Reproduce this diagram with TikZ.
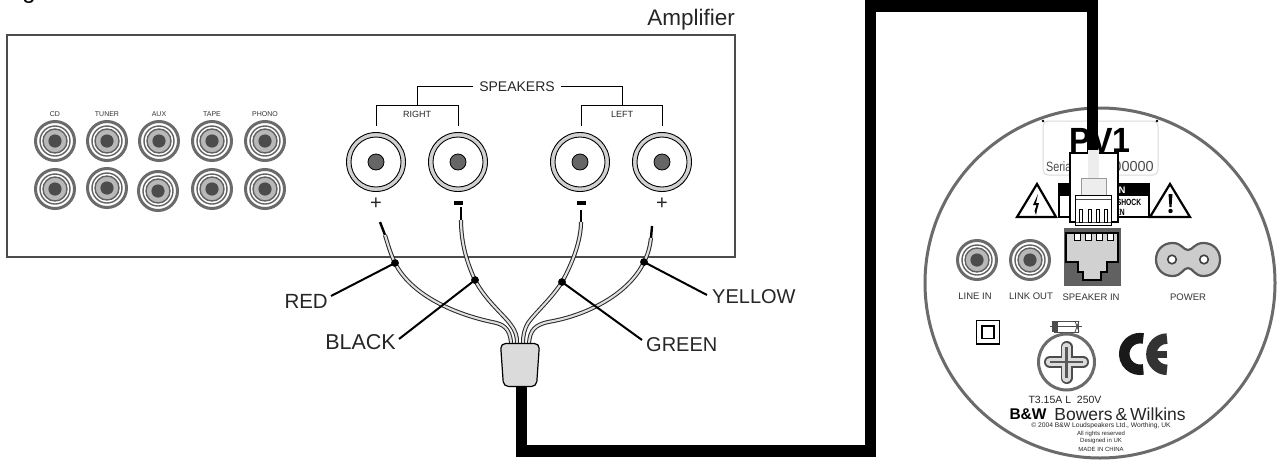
\documentclass[tikz,border=0pt]{standalone}
\usepackage{fontspec}
\setmainfont{Liberation Sans}
\newcommand{\fsz}[1]{\fontsize{#1}{#1}\selectfont}
\tikzset{
  lab/.style={inner sep=0pt,text=black!85},
  rail/.style={draw=black,line width=1pt},
  wire/.style={draw=black!85,double=black!12,double distance=2.1pt,line width=1pt},
  wiretip/.style={draw=black,line width=2.4pt},
  pointer/.style={draw=black,line width=2pt},
  dotmark/.style={circle,fill=black,inner sep=0pt,minimum size=7.5pt},
  cable/.style={draw=black,line width=11.5pt,miter limit=10},
  terminal/.style={circle,draw=black,line width=0.9pt,fill=black!18,minimum size=59pt,inner sep=0pt},
  terminner/.style={circle,draw=black,line width=0.9pt,fill=white,minimum size=50pt,inner sep=0pt},
  termdot/.style={circle,draw=black,line width=0.8pt,fill=black!60,minimum size=16pt,inner sep=0pt}
}
\newcommand{\rca}[2]{%
  \fill[white] (#1,#2) circle (21);
  \draw[black!58,line width=3pt] (#1,#2) circle (19.5);
  \draw[black!62,line width=1.4pt] (#1,#2) circle (15);
  \draw[black!62,line width=1.4pt,fill=black!28] (#1,#2) circle (12);
  \fill[black!70] (#1,#2) circle (6.6);
}
\begin{document}
\begin{tikzpicture}[x=1pt,y=-1pt]
\useasboundingbox (0,0) rectangle (1279,461);
\fill[white] (0,0) rectangle (1279,461);
\begin{scope}
\clip (0,0) rectangle (1279,461);
\node[lab,anchor=base,text=black] (gtail) at (29,-2) {\fsz{24}g};
\end{scope}

% amplifier
\node[draw=black!70,line width=1.2pt,minimum width=728pt,minimum height=222pt,inner sep=0pt] (amp) at (371,146) {};
\node[lab,anchor=base east] (amplabel) at (735,25) {\fsz{22.5}Amplifier};

\foreach \n/\x in {CD/55,TUNER/107,AUX/159,TAPE/212,PHONO/265}
  \node[lab,text=black!80] (in\n) at (\x,114.5) {\fsz{7}\n};
\rca{55}{141}\rca{107}{141}\rca{159}{141}\rca{212}{141}\rca{265}{141}
\rca{55}{189}\rca{107}{188}\rca{158}{191}\rca{212}{189}\rca{265}{189}

% speaker terminals
\foreach \n/\x in {ra/376,rb/458,la/580,lb/662}{
  \node[terminal] (\n) at (\x,162) {};
  \node[terminner] at (\x,162) {};
  \node[termdot] at (\x,162) {};
}
\node[lab] (spk) at (517,86.5) {\fsz{14}SPEAKERS};
\node[lab] (rgt) at (417,114) {\fsz{9}RIGHT};
\node[lab] (lft) at (622,114) {\fsz{9}LEFT};
\coordinate (rj) at (417,105);
\coordinate (lj) at (622,105);
\coordinate (ra1) at (376,126);
\coordinate (rb1) at (458,126);
\coordinate (la1) at (581,126);
\coordinate (lb1) at (662,126);
\draw[rail] (spk.west)++(-6,0) -- (417,86.5) -- (rj);
\draw[rail] (spk.east)++(6,0) -- (622,86.5) -- (lj);
\draw[rail] (ra1) |- (rb1 |- rj) -- (rb1);
\draw[rail] (la1) |- (lb1 |- lj) -- (lb1);
\node[lab] (p1) at (376,204) {\fsz{20}+};
\node[lab] (p2) at (662,204) {\fsz{20}+};
\node[fill=black,inner sep=0pt,minimum width=9pt,minimum height=3.2pt] (m1) at (458,203) {};
\node[fill=black,inner sep=0pt,minimum width=9pt,minimum height=3.2pt] (m2) at (581,203) {};

% wires
\coordinate (w1a) at (380,222); \coordinate (w1b) at (385,235);
\coordinate (w2a) at (461,207); \coordinate (w2b) at (461,220);
\coordinate (w3a) at (581,210); \coordinate (w3b) at (581,222);
\coordinate (w4a) at (652,226); \coordinate (w4b) at (651,238);
\node[dotmark] (d1) at (395,263) {};
\node[dotmark] (d2) at (475,280) {};
\node[dotmark] (d3) at (562,282) {};
\node[dotmark] (d4) at (644,262) {};
\coordinate (e1) at (511,343); \coordinate (e2) at (517,343);
\coordinate (e3) at (523,343); \coordinate (e4) at (529,343);
\draw[wiretip] (w1a) -- (w1b);
\draw[wiretip] (w2a) -- (w2b);
\draw[wiretip] (w3a) -- (w3b);
\draw[wiretip] (w4a) -- (w4b);
\draw[wire] (w1b) .. controls (388,245) and (391,255) .. (395,263) .. controls (410,293) and (450,313) .. (492,322) .. controls (503,324) and (510,328) .. (e1);
\draw[wire] (w2b) .. controls (461,245) and (468,265) .. (475,280) .. controls (485,300) and (505,316) .. (511,325) .. controls (516,332) and (517,336) .. (e2);
\draw[wire] (w3b) .. controls (581,240) and (573,262) .. (562,282) .. controls (552,298) and (535,313) .. (528,323) .. controls (524,330) and (523,336) .. (e3);
\draw[wire] (w4b) .. controls (650,245) and (649,252) .. (644,262) .. controls (630,292) and (590,315) .. (548,322) .. controls (535,325) and (530,330) .. (e4);
\node[dotmark] at (395,263) {};
\node[dotmark] at (475,280) {};
\node[dotmark] at (562,282) {};
\node[dotmark] at (644,262) {};

% colour labels
\node[lab,anchor=east] (red) at (328,301) {\fsz{20.5}RED};
\node[lab,anchor=east] (blk) at (396,342) {\fsz{21.5}BLACK};
\node[lab,anchor=west] (grn) at (646,345) {\fsz{20}GREEN};
\node[lab,anchor=west] (yel) at (712,297) {\fsz{20}YELLOW};
\coordinate (r0) at (331,296); \coordinate (b0) at (399,339);
\coordinate (g0) at (642,340); \coordinate (y0) at (707,295);
\draw[pointer] (r0) -- (d1.center);
\draw[pointer] (b0) -- (d2.center);
\draw[pointer] (g0) -- (d3.center);
\draw[pointer] (y0) -- (d4.center);

% speaker disc
\node[circle,draw=black!58,line width=3pt,fill=white,minimum size=350pt,inner sep=0pt] (disc) at (1100,283) {};
\node[rounded corners=5pt,draw=black!15,line width=1pt,minimum width=115pt,minimum height=54pt,inner sep=0pt] (tag) at (1100.5,148) {};
\fill[black] (1043,121) circle (1.4) (1157,121) circle (1.4);
\node[lab,text=black,xscale=0.92,font=\bfseries] (pv) at (1100,140) {\fsz{35}PV1};
\node[lab,anchor=base west,text=black!70,xscale=0.8] (ser1) at (1046,171) {\fsz{13.5}Seria};
\node[lab,anchor=base east,text=black!70] (ser2) at (1154,171) {\fsz{14.5}00000};

% warning panel and triangles
\fill[black] (1058,183) rectangle (1150,218);
\fill[white] (1060,196) rectangle (1148,216);
\node[lab,text=white,font=\bfseries] at (1122,190.5) {\fsz{9.5}N};
\node[lab,text=black,font=\bfseries,xscale=0.75] at (1129,202) {\fsz{9}SHOCK};
\node[lab,text=black,font=\bfseries,xscale=0.75] at (1120,212) {\fsz{9}EN};
\draw[black,line width=2.2pt,fill=white,line join=miter] (1037,184) -- (1017,217) -- (1056,217) -- cycle;
\draw[black,line width=2.2pt,fill=white,line join=miter] (1170,184) -- (1150,217) -- (1190,217) -- cycle;
\fill[black] (1038,194) -- (1033,205) -- (1036.5,205) -- (1034.5,211) -- (1036,215) -- (1037,210) -- (1039,203) -- (1036,203) -- cycle;
\fill[black] (1168.5,194) -- (1172.5,194) -- (1171.5,207) -- (1169.5,207) -- cycle;
\fill[black] (1170.5,211) circle (2.2);

% sockets row
\rca{977}{260}\rca{1030}{260}
\node[lab,text=black!80] (linein) at (975,296) {\fsz{9.5}LINE IN};
\node[lab,text=black!80] (linkout) at (1031,296) {\fsz{9.5}LINK OUT};
\node[lab,text=black!80] (spkin) at (1091,297) {\fsz{9.5}SPEAKER IN};
\node[lab,text=black!80] (pwrl) at (1188,297) {\fsz{9.5}POWER};
\fill[black!62] (1064,228) rectangle (1121,286);
\draw[black,line width=1.5pt,fill=black!18] (1066,233) -- (1118,233) -- (1118,262) -- (1107,262) -- (1107,272) -- (1101,272) -- (1101,280) -- (1083,280) -- (1083,272) -- (1078,272) -- (1078,262) -- (1066,262) -- cycle;
\foreach \x in {1074,1085,1096,1107}
  \draw[black,line width=0.9pt,fill=white] (\x,233.5) rectangle ++(6,7);
\draw[black!65,line width=2.2pt,fill=black!20]
  (1188,250) .. controls (1183,250) and (1182,243) .. (1172.5,243)
  .. controls (1163,243) and (1156,250) .. (1156,259.5)
  .. controls (1156,269) and (1163,276) .. (1172.5,276)
  .. controls (1182,276) and (1183,268) .. (1188,268)
  .. controls (1193,268) and (1194,276) .. (1203.5,276)
  .. controls (1213,276) and (1220,269) .. (1220,259.5)
  .. controls (1220,250) and (1213,243) .. (1203.5,243)
  .. controls (1194,243) and (1193,250) .. (1188,250) -- cycle;
\draw[black!75,line width=1.6pt,fill=white] (1172,259.5) circle (4.3) (1204,259.5) circle (4.3);

% safety marks
\draw[black,line width=1.4pt] (976.5,320.5) rectangle (999.5,344);
\draw[black,line width=1.4pt] (982,326) rectangle (994,338.5);
\draw[black!70,line width=1pt] (1050,326) -- (1082,326);
\draw[black!70,line width=0.8pt,fill=white] (1054,321) rectangle (1078,332);
\draw[black!70,line width=0.8pt] (1054,326) -- (1078,326);
\fill[black!70] (1052,321) rectangle (1058,332);
\draw[black!70,line width=0.8pt] (1075,321) -- (1079,332) (1079,321) -- (1075,332);
\draw[black!58,line width=3pt] (1066.5,362) circle (28);
\draw[black!70,line width=12pt,line cap=round] (1050,362) -- (1083,362) (1066.5,347) -- (1066.5,378);
\draw[black!14,line width=8.5pt,line cap=round] (1050,362) -- (1083,362) (1066.5,347) -- (1066.5,378);
\draw[black!65,line width=2.4pt] (1050,362) -- (1083,362) (1066.5,347) -- (1066.5,378);
\draw[black!90,line width=10.5pt] (1143.3,338.5) arc[start angle=-78,end angle=-282,radius=15.8];
\draw[black!80,line width=10.5pt] (1167,338.6) arc[start angle=-90,end angle=-270,radius=15.6];
\fill[black!80] (1154,350.5) rectangle (1167,357.5);

% fuse and maker text
\node[lab] (fuse) at (1065,400) {\fsz{10.5}T3.15A L~~250V};
\node[lab,text=black,font=\bfseries] (bw) at (1028,414) {\fsz{15.5}B\&W};
\node[lab] (bowers) at (1120,414.5) {\fsz{17.5}Bowers\,\&\,Wilkins};
\node[lab] (t1) at (1101,425.5) {\fsz{6.7}© 2004 B\&W Loudspeakers Ltd., Worthing, UK};
\node[lab] (t2) at (1101,433.5) {\fsz{6}All rights reserved};
\node[lab] (t3) at (1101,441) {\fsz{6}Designed in UK};
\node[lab] (t4) at (1101,449) {\fsz{6}MADE IN CHINA};

% boot and cable
\coordinate (bootbot) at (521.5,386);
\coordinate (c1) at (521.5,451);
\coordinate (c2) at (870.5,451);
\coordinate (c3) at (870.5,6);
\coordinate (c4) at (1092.5,6);
\coordinate (plugtop) at (1092.5,153);
\draw[cable] (bootbot) -- (c1) -- (c2) -- (c3) -- (c4) -- (plugtop);
\draw[black,line width=1.2pt,fill=black!14,rounded corners=5pt] (500.5,343.5) -- (539.5,343.5) -- (536.5,386.5) -- (503.5,386.5) -- cycle;

% plug
\node[draw=black,line width=2pt,fill=white,minimum width=48pt,minimum height=69pt,inner sep=0pt] (plug) at (1093.5,187.5) {};
\fill[black!7] (1088,150) rectangle (1099,178);
\draw[black!40,line width=0.4pt,fill=black!7] (1081,178) rectangle (1106,196);
\draw[black,line width=0.9pt,fill=white] (1075.5,195.5) rectangle (1111,225);
\draw[black!70,line width=0.7pt] (1075.5,199) -- (1111,199) (1075.5,222) -- (1111,222);
\foreach \x in {1079.5,1088,1096.5,1104.5}
  \draw[black,line width=0.9pt,fill=white] (\x,209) rectangle ++(3.2,13);
\end{tikzpicture}
\end{document}
